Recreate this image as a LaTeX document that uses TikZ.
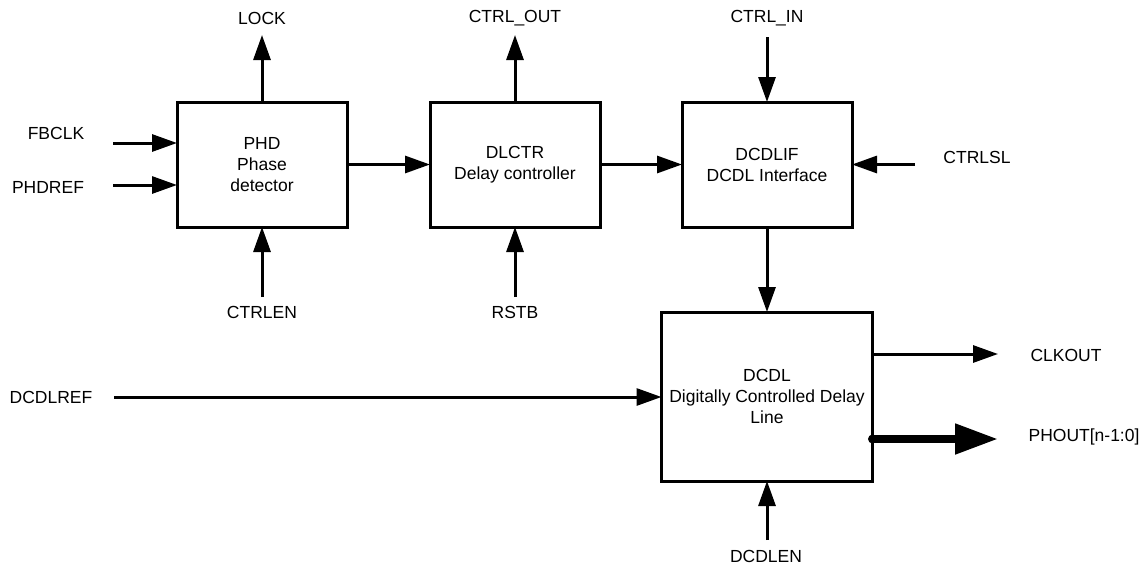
\documentclass[tikz,border=0pt]{standalone}
\usepackage{fontspec}
\setmainfont{Liberation Sans}
\usetikzlibrary{arrows.meta}
\begin{document}
\begin{tikzpicture}[x=1pt,y=-1pt,
  blk/.style={draw, line width=3pt, inner sep=2pt, outer sep=0pt, align=center,
              font=\fontsize{17.5}{21}\selectfont},
  lbl/.style={inner sep=0pt, font=\fontsize{17.5}{20}\selectfont},
  sig/.style={line width=3pt, -{Triangle[length=25pt,width=17pt]}},
  bus/.style={line width=8pt, -{Triangle[length=43pt,width=29pt]}}]
\useasboundingbox (0,0) rectangle (1145,565);

% functional blocks
\node[blk, minimum width=170pt, minimum height=125pt] (phd)    at (262,164.5) {PHD\\Phase\\detector};
\node[blk, minimum width=170pt, minimum height=125pt] (dlctr)  at (515,164.5) {DLCTR\\Delay controller};
\node[blk, minimum width=170pt, minimum height=125pt] (dcdlif) at (767,164.5) {DCDLIF\\DCDL Interface};
\node[blk, minimum width=211pt, minimum height=169pt] (dcdl)   at (767,396.5) {DCDL\\Digitally Controlled Delay\\Line};

% pin labels
\node[lbl] (lock)    at (262,18)  {LOCK};
\node[lbl] (ctrlout) at (515,18)  {CTRL\_OUT};
\node[lbl] (ctrlin)  at (767,18)  {CTRL\_IN};
\node[lbl] (fbclk)   at (56,133)  {FBCLK};
\node[lbl] (phdref)  at (48,187)  {PHDREF};
\node[lbl] (ctrlsl)  at (977,157) {CTRLSL};
\node[lbl] (ctrlen)  at (262,312) {CTRLEN};
\node[lbl] (rstb)    at (515,312) {RSTB};
\node[lbl] (dcdlref) at (51,397)  {DCDLREF};
\node[lbl] (clkout)  at (1066,355) {CLKOUT};
\node[lbl] (phout)   at (1084,437) {PHOUT[n-1:0]};
\node[lbl] (dcdlen)  at (766,556) {DCDLEN};

% free ends of the pin wires
\coordinate (lockE)    at (262,35);
\coordinate (ctrloutE) at (515,35);
\coordinate (ctrlinS)  at (767,37);
\coordinate (fbclkS)   at (113,143);
\coordinate (phdrefS)  at (113,185);
\coordinate (ctrlslS)  at (915,164.5);
\coordinate (ctrlenS)  at (262,297);
\coordinate (rstbS)    at (515,297);
\coordinate (dcdlrefS) at (114,397);
\coordinate (clkoutE)  at (998,354);
\coordinate (phoutE)   at (998,439);
\coordinate (dcdlenS)  at (767,540);

% inputs and outputs of the phase detector
\draw[sig] (phd.north) -- (lockE);
\draw[sig] (fbclkS) -- (fbclkS -| phd.west);
\draw[sig] (phdrefS) -- (phdrefS -| phd.west);
\draw[sig] (ctrlenS) -- (phd.south);
\draw[sig] (phd.east) -- (dlctr.west);

% delay controller
\draw[sig] (dlctr.north) -- (ctrloutE);
\draw[sig] (rstbS) -- (dlctr.south);
\draw[sig] (dlctr.east) -- (dcdlif.west);

% DCDL interface
\draw[sig] (ctrlinS) -- (dcdlif.north);
\draw[sig] (ctrlslS) -- (dcdlif.east);
\draw[sig] (dcdlif.south) -- (dcdl.north);

% delay line
\draw[sig] (dcdlrefS) -- (dcdlrefS -| dcdl.west);
\draw[sig] (dcdlenS) -- (dcdl.south);
\draw[sig] (clkoutE -| dcdl.east) -- (clkoutE);
\draw[bus] (phoutE -| dcdl.east) -- (phoutE);
\fill (phoutE -| dcdl.east) circle (4.5pt);
\end{tikzpicture}
\end{document}
